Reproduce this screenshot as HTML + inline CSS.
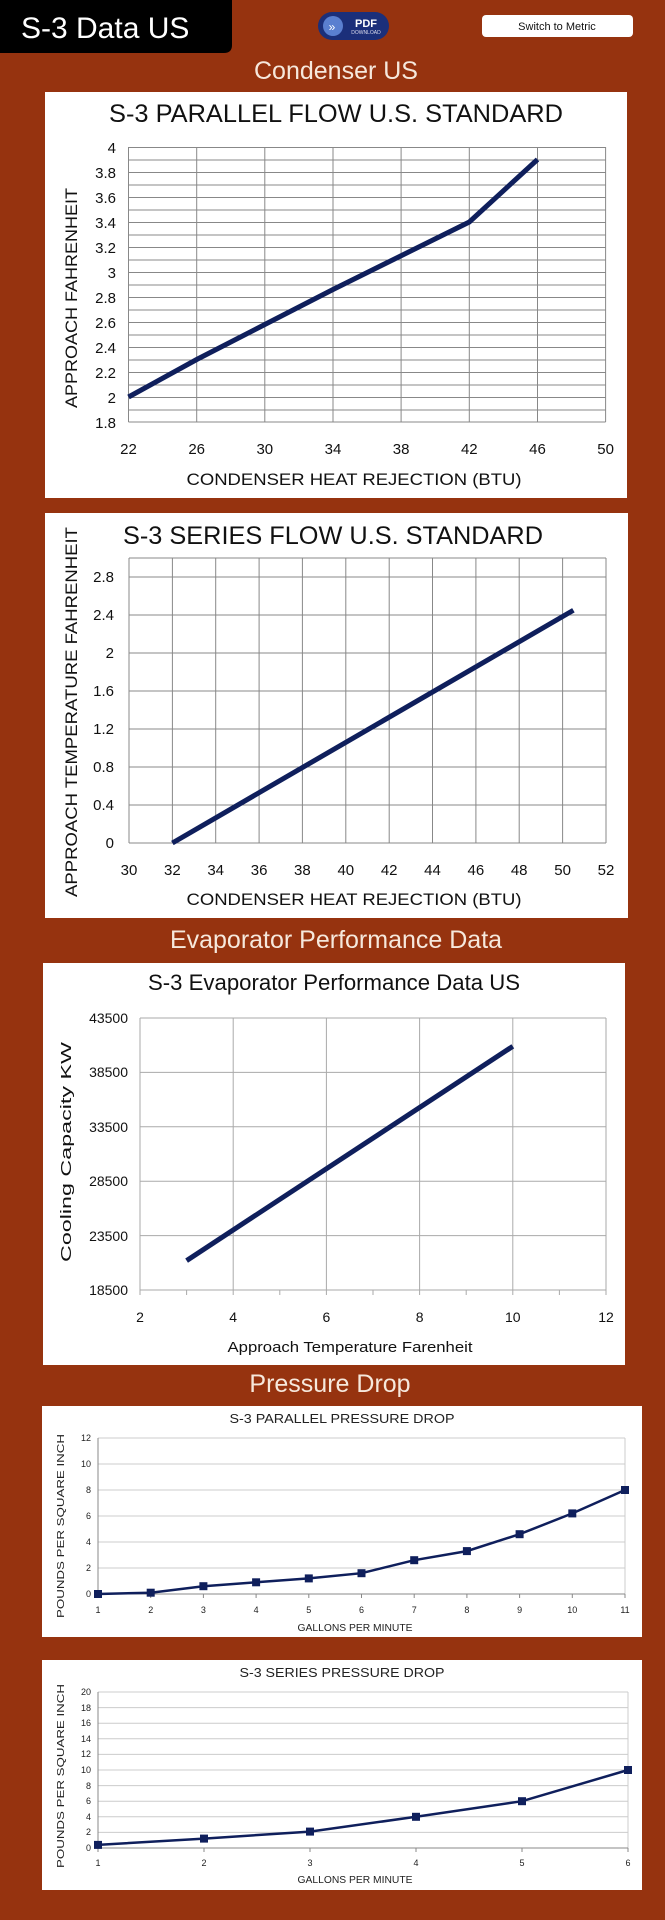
<!DOCTYPE html>
<html><head><meta charset="utf-8"><style>
html,body{margin:0;padding:0;background:#96330f;}
svg{display:block}
text{font-family:"Liberation Sans",sans-serif;}
</style></head><body>
<svg width="665" height="1920" viewBox="0 0 665 1920" xmlns="http://www.w3.org/2000/svg">
<rect width="665" height="1920" fill="#96330f"/>
<!-- header -->
<path d="M0 0H232V45Q232 53 224 53H0Z" fill="#000"/>
<text x="21" y="38" font-size="30" fill="#fff">S-3 Data US</text>
<rect x="318" y="12" width="71" height="28" rx="14" fill="#1b2f7a"/>
<circle cx="333" cy="26" r="10" fill="#5a7fd0"/>
<text x="332" y="31" font-size="12" fill="#fff" text-anchor="middle">»</text>
<text x="366" y="27" font-size="11" fill="#fff" text-anchor="middle" font-weight="bold">PDF</text>
<text x="366" y="34" font-size="5" fill="#dde" text-anchor="middle">DOWNLOAD</text>
<rect x="482" y="15" width="151" height="22" rx="4" fill="#fff"/>
<text x="557" y="30" font-size="11" fill="#111" text-anchor="middle">Switch to Metric</text>
<text x="336" y="79" font-size="25" fill="#f6e8dc" text-anchor="middle">Condenser US</text>

<!-- chart 1 -->
<rect x="45" y="92" width="582" height="406" fill="#fff"/>
<text x="336" y="122" font-size="25" fill="#111" text-anchor="middle" textLength="454" lengthAdjust="spacingAndGlyphs">S-3 PARALLEL FLOW U.S. STANDARD</text>
<g stroke="#888" stroke-width="1" fill="none">
<path d="M128.5 147.5H605.6M128.5 160H605.6M128.5 172.5H605.6M128.5 185H605.6M128.5 197.5H605.6M128.5 210H605.6M128.5 222.5H605.6M128.5 235H605.6M128.5 247.5H605.6M128.5 260H605.6M128.5 272.5H605.6M128.5 285H605.6M128.5 297.5H605.6M128.5 310H605.6M128.5 322.5H605.6M128.5 335H605.6M128.5 347.5H605.6M128.5 360H605.6M128.5 372.5H605.6M128.5 385H605.6M128.5 397.5H605.6M128.5 410H605.6M128.5 422H605.6"/>
<path d="M128.5 147V422M196.7 147V422M264.8 147V422M333 147V422M401.1 147V422M469.3 147V422M537.5 147V422M605.6 147V422"/>
</g>
<polyline points="128.5,397 196.7,359.5 264.8,324.5 333,289.5 401.1,255.75 469.3,222 537.5,159.5" fill="none" stroke="#0f1f5c" stroke-width="5"/>
<g font-size="15" fill="#111" text-anchor="end">
<text x="116" y="153">4</text><text x="116" y="178">3.8</text><text x="116" y="203">3.6</text><text x="116" y="228">3.4</text><text x="116" y="253">3.2</text><text x="116" y="278">3</text><text x="116" y="303">2.8</text><text x="116" y="328">2.6</text><text x="116" y="353">2.4</text><text x="116" y="378">2.2</text><text x="116" y="403">2</text><text x="116" y="428">1.8</text>
</g>
<g font-size="15" fill="#111" text-anchor="middle">
<text x="128.5" y="454">22</text><text x="196.7" y="454">26</text><text x="264.8" y="454">30</text><text x="333" y="454">34</text><text x="401.1" y="454">38</text><text x="469.3" y="454">42</text><text x="537.5" y="454">46</text><text x="605.6" y="454">50</text>
</g>
<text x="354" y="485" font-size="17" fill="#111" text-anchor="middle" textLength="335" lengthAdjust="spacingAndGlyphs">CONDENSER HEAT REJECTION (BTU)</text>
<text transform="translate(77,298) rotate(-90)" font-size="17" fill="#111" text-anchor="middle" textLength="220" lengthAdjust="spacingAndGlyphs">APPROACH FAHRENHEIT</text>

<!-- chart 2 -->
<rect x="45" y="513" width="583" height="405" fill="#fff"/>
<text x="333" y="544" font-size="25" fill="#111" text-anchor="middle" textLength="420" lengthAdjust="spacingAndGlyphs">S-3 SERIES FLOW U.S. STANDARD</text>
<g stroke="#888" stroke-width="1" fill="none">
<path d="M129 558H606M129 577H606M129 615H606M129 653H606M129 691H606M129 729H606M129 767H606M129 805H606M129 843H606"/>
<path d="M129 558V843M172.4 558V843M215.7 558V843M259.1 558V843M302.4 558V843M345.8 558V843M389.2 558V843M432.5 558V843M475.9 558V843M519.2 558V843M562.6 558V843M606 558V843"/>
</g>
<line x1="172.4" y1="843" x2="573.4" y2="610.25" stroke="#0f1f5c" stroke-width="5"/>
<g font-size="15" fill="#111" text-anchor="end">
<text x="114" y="582">2.8</text><text x="114" y="620">2.4</text><text x="114" y="658">2</text><text x="114" y="696">1.6</text><text x="114" y="734">1.2</text><text x="114" y="772">0.8</text><text x="114" y="810">0.4</text><text x="114" y="848">0</text>
</g>
<g font-size="15" fill="#111" text-anchor="middle">
<text x="129" y="875">30</text><text x="172.4" y="875">32</text><text x="215.7" y="875">34</text><text x="259.1" y="875">36</text><text x="302.4" y="875">38</text><text x="345.8" y="875">40</text><text x="389.2" y="875">42</text><text x="432.5" y="875">44</text><text x="475.9" y="875">46</text><text x="519.2" y="875">48</text><text x="562.6" y="875">50</text><text x="606" y="875">52</text>
</g>
<text x="354" y="905" font-size="17" fill="#111" text-anchor="middle" textLength="335" lengthAdjust="spacingAndGlyphs">CONDENSER HEAT REJECTION (BTU)</text>
<text transform="translate(77,712) rotate(-90)" font-size="17" fill="#111" text-anchor="middle" textLength="370" lengthAdjust="spacingAndGlyphs">APPROACH TEMPERATURE FAHRENHEIT</text>
<text x="336" y="948" font-size="25" fill="#f6e8dc" text-anchor="middle">Evaporator Performance Data</text>

<!-- chart 3 -->
<rect x="43" y="963" width="582" height="402" fill="#fff"/>
<text x="334" y="990" font-size="22" fill="#111" text-anchor="middle" textLength="372" lengthAdjust="spacingAndGlyphs">S-3 Evaporator Performance Data US</text>
<g stroke="#aaa" stroke-width="1" fill="none">
<path d="M140 1018H606M140 1072.4H606M140 1126.8H606M140 1181.2H606M140 1235.6H606M140 1290H606"/>
<path d="M140 1018V1295M233.2 1018V1295M326.4 1018V1295M419.6 1018V1295M512.8 1018V1295M606 1018V1295M186.6 1290V1295M279.8 1290V1295M373 1290V1295M466.2 1290V1295M559.4 1290V1295"/>
</g>
<line x1="186.6" y1="1260.6" x2="512.8" y2="1046.3" stroke="#0f1f5c" stroke-width="5"/>
<g font-size="14" fill="#111" text-anchor="end">
<text x="128" y="1023">43500</text><text x="128" y="1077">38500</text><text x="128" y="1132">33500</text><text x="128" y="1186">28500</text><text x="128" y="1241">23500</text><text x="128" y="1295">18500</text>
</g>
<g font-size="14" fill="#111" text-anchor="middle">
<text x="140" y="1322">2</text><text x="233.2" y="1322">4</text><text x="326.4" y="1322">6</text><text x="419.6" y="1322">8</text><text x="512.8" y="1322">10</text><text x="606" y="1322">12</text>
</g>
<text x="350" y="1352" font-size="15" fill="#111" text-anchor="middle" textLength="245" lengthAdjust="spacingAndGlyphs">Approach Temperature Farenheit</text>
<text transform="translate(71,1152) rotate(-90)" font-size="15" fill="#111" text-anchor="middle" textLength="220" lengthAdjust="spacingAndGlyphs">Cooling Capacity KW</text>
<text x="330" y="1392" font-size="25" fill="#f6e8dc" text-anchor="middle">Pressure Drop</text>

<!-- chart 4 -->
<rect x="42" y="1406" width="600" height="231" fill="#fff"/>
<text x="342" y="1423" font-size="13" fill="#222" text-anchor="middle" textLength="225" lengthAdjust="spacingAndGlyphs">S-3 PARALLEL PRESSURE DROP</text>
<g stroke="#ccc" stroke-width="1" fill="none">
<path d="M98 1438H625M98 1464H625M98 1490H625M98 1516H625M98 1542H625M98 1568H625M625 1438V1594"/>
</g>
<g stroke="#888" stroke-width="1" fill="none"><path d="M98 1438V1594H625M98 1594v4M150.7 1594v4M203.4 1594v4M256.1 1594v4M308.8 1594v4M361.5 1594v4M414.2 1594v4M466.9 1594v4M519.6 1594v4M572.3 1594v4M625 1594v4"/></g>
<polyline points="98,1594 150.7,1592.7 203.4,1586.2 256.1,1582.3 308.8,1578.4 361.5,1573.2 414.2,1560.2 466.9,1551.1 519.6,1534.2 572.3,1513.4 625,1490" fill="none" stroke="#0f1f5c" stroke-width="2.5"/>
<g fill="#0f1f5c">
<rect x="94" y="1590" width="8" height="8"/><rect x="146.7" y="1588.7" width="8" height="8"/><rect x="199.4" y="1582.2" width="8" height="8"/><rect x="252.1" y="1578.3" width="8" height="8"/><rect x="304.8" y="1574.4" width="8" height="8"/><rect x="357.5" y="1569.2" width="8" height="8"/><rect x="410.2" y="1556.2" width="8" height="8"/><rect x="462.9" y="1547.1" width="8" height="8"/><rect x="515.6" y="1530.2" width="8" height="8"/><rect x="568.3" y="1509.4" width="8" height="8"/><rect x="621" y="1486" width="8" height="8"/>
</g>
<g font-size="9" fill="#222" text-anchor="end">
<text x="91" y="1441">12</text><text x="91" y="1467">10</text><text x="91" y="1493">8</text><text x="91" y="1519">6</text><text x="91" y="1545">4</text><text x="91" y="1571">2</text><text x="91" y="1597">0</text>
</g>
<g font-size="9" fill="#222" text-anchor="middle">
<text x="98" y="1613">1</text><text x="150.7" y="1613">2</text><text x="203.4" y="1613">3</text><text x="256.1" y="1613">4</text><text x="308.8" y="1613">5</text><text x="361.5" y="1613">6</text><text x="414.2" y="1613">7</text><text x="466.9" y="1613">8</text><text x="519.6" y="1613">9</text><text x="572.3" y="1613">10</text><text x="625" y="1613">11</text>
</g>
<text x="355" y="1631" font-size="10" fill="#222" text-anchor="middle" textLength="115" lengthAdjust="spacingAndGlyphs">GALLONS PER MINUTE</text>
<text transform="translate(64,1526) rotate(-90)" font-size="10" fill="#222" text-anchor="middle" textLength="184" lengthAdjust="spacingAndGlyphs">POUNDS PER SQUARE INCH</text>

<!-- chart 5 -->
<rect x="42" y="1660" width="600" height="230" fill="#fff"/>
<text x="342" y="1677" font-size="13" fill="#222" text-anchor="middle" textLength="205" lengthAdjust="spacingAndGlyphs">S-3 SERIES PRESSURE DROP</text>
<g stroke="#ccc" stroke-width="1" fill="none">
<path d="M98 1692H628M98 1707.6H628M98 1723.2H628M98 1738.8H628M98 1754.4H628M98 1770H628M98 1785.6H628M98 1801.2H628M98 1816.8H628M98 1832.4H628M628 1692V1848"/>
</g>
<g stroke="#888" stroke-width="1" fill="none"><path d="M98 1692V1848H628M98 1848v4M204 1848v4M310 1848v4M416 1848v4M522 1848v4M628 1848v4"/></g>
<polyline points="98,1844.9 204,1838.6 310,1831.6 416,1816.8 522,1801.2 628,1770" fill="none" stroke="#0f1f5c" stroke-width="2.5"/>
<g fill="#0f1f5c">
<rect x="94" y="1840.9" width="8" height="8"/><rect x="200" y="1834.6" width="8" height="8"/><rect x="306" y="1827.6" width="8" height="8"/><rect x="412" y="1812.8" width="8" height="8"/><rect x="518" y="1797.2" width="8" height="8"/><rect x="624" y="1766" width="8" height="8"/>
</g>
<g font-size="9" fill="#222" text-anchor="end">
<text x="91" y="1695">20</text><text x="91" y="1711">18</text><text x="91" y="1726">16</text><text x="91" y="1742">14</text><text x="91" y="1757">12</text><text x="91" y="1773">10</text><text x="91" y="1789">8</text><text x="91" y="1804">6</text><text x="91" y="1820">4</text><text x="91" y="1835">2</text><text x="91" y="1851">0</text>
</g>
<g font-size="9" fill="#222" text-anchor="middle">
<text x="98" y="1866">1</text><text x="204" y="1866">2</text><text x="310" y="1866">3</text><text x="416" y="1866">4</text><text x="522" y="1866">5</text><text x="628" y="1866">6</text>
</g>
<text x="355" y="1883" font-size="10" fill="#222" text-anchor="middle" textLength="115" lengthAdjust="spacingAndGlyphs">GALLONS PER MINUTE</text>
<text transform="translate(64,1776) rotate(-90)" font-size="10" fill="#222" text-anchor="middle" textLength="184" lengthAdjust="spacingAndGlyphs">POUNDS PER SQUARE INCH</text>
</svg>
</body></html>
